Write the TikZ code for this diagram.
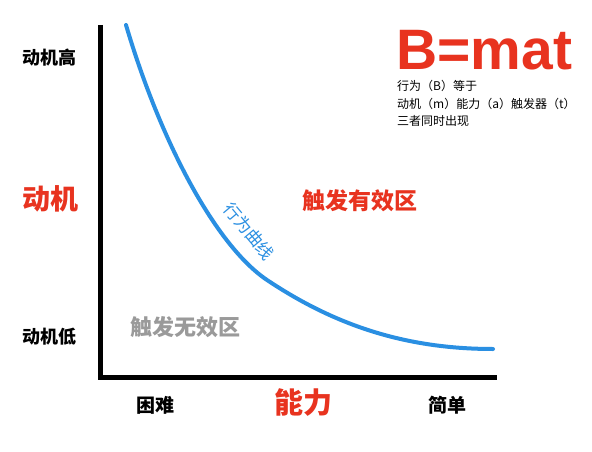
\documentclass[tikz,border=0pt]{standalone}
\usepackage{fontspec}
\setmainfont{Liberation Sans}
\newfontfamily\cjk{Noto Sans CJK SC}
\definecolor{bred}{HTML}{E8331F}
\definecolor{bblue}{HTML}{2A8FE2}
\definecolor{bgray}{HTML}{9A9A9A}
\begin{document}
\begin{tikzpicture}[x=1pt,y=-1pt,
  lbl/.style={inner sep=0pt,font=\cjk\bfseries\fontsize{#1}{#1}\selectfont},
  small/.style={inner sep=0pt,anchor=west,font=\cjk\fontsize{12}{12}\selectfont},
  axisline/.style={line width=5pt,black},
  curveline/.style={line width=4pt,bblue,line cap=round,line join=round}]
\useasboundingbox[fill=white] (0,0) rectangle (592,452);
% axes
\coordinate (top) at (100,25);
\coordinate (origin) at (100,377);
\coordinate (right) at (497,377);
\draw[axisline] (top) -- (origin) -- (right);
% curve
\coordinate (c0) at (126,25);
\coordinate (c1) at (267,280);
\coordinate (c2) at (493,349);
\draw[curveline] (c0) .. controls (160,140) and (215,245) .. (c1)
  .. controls (330,322) and (400,349) .. (c2);
\node[inner sep=0pt,text=bblue,rotate=-50,font=\cjk\fontsize{17}{17}\selectfont] (curvelbl) at (249,231) {行为曲线};
% y labels
\node[lbl=18] (mhigh) at (49,58) {动机高};
\node[lbl=28,bred] (motive) at (50,199) {动机};
\node[lbl=18] (mlow) at (50,337) {动机低};
% x labels
\node[lbl=19] (hard) at (155,405) {困难};
\node[lbl=29,bred] (ability) at (303,403) {能力};
\node[lbl=19] (easy) at (447,405) {简单};
% regions
\node[lbl=23,bred] (valid) at (360,201) {触发有效区};
\node[lbl=22,bgray] (invalid) at (185,327) {触发无效区};
% formula
\node[inner sep=0pt,anchor=west,text=bred,font=\bfseries\fontsize{57}{57}\selectfont] (formula) at (396,50) {B=mat};
\node[small] (l1) at (397,86) {行为（B）等于};
\node[small] (l2) at (397,104) {动机（m）能力（a）触发器（t）};
\node[small] (l3) at (397,121) {三者同时出现};
\end{tikzpicture}
\end{document}
